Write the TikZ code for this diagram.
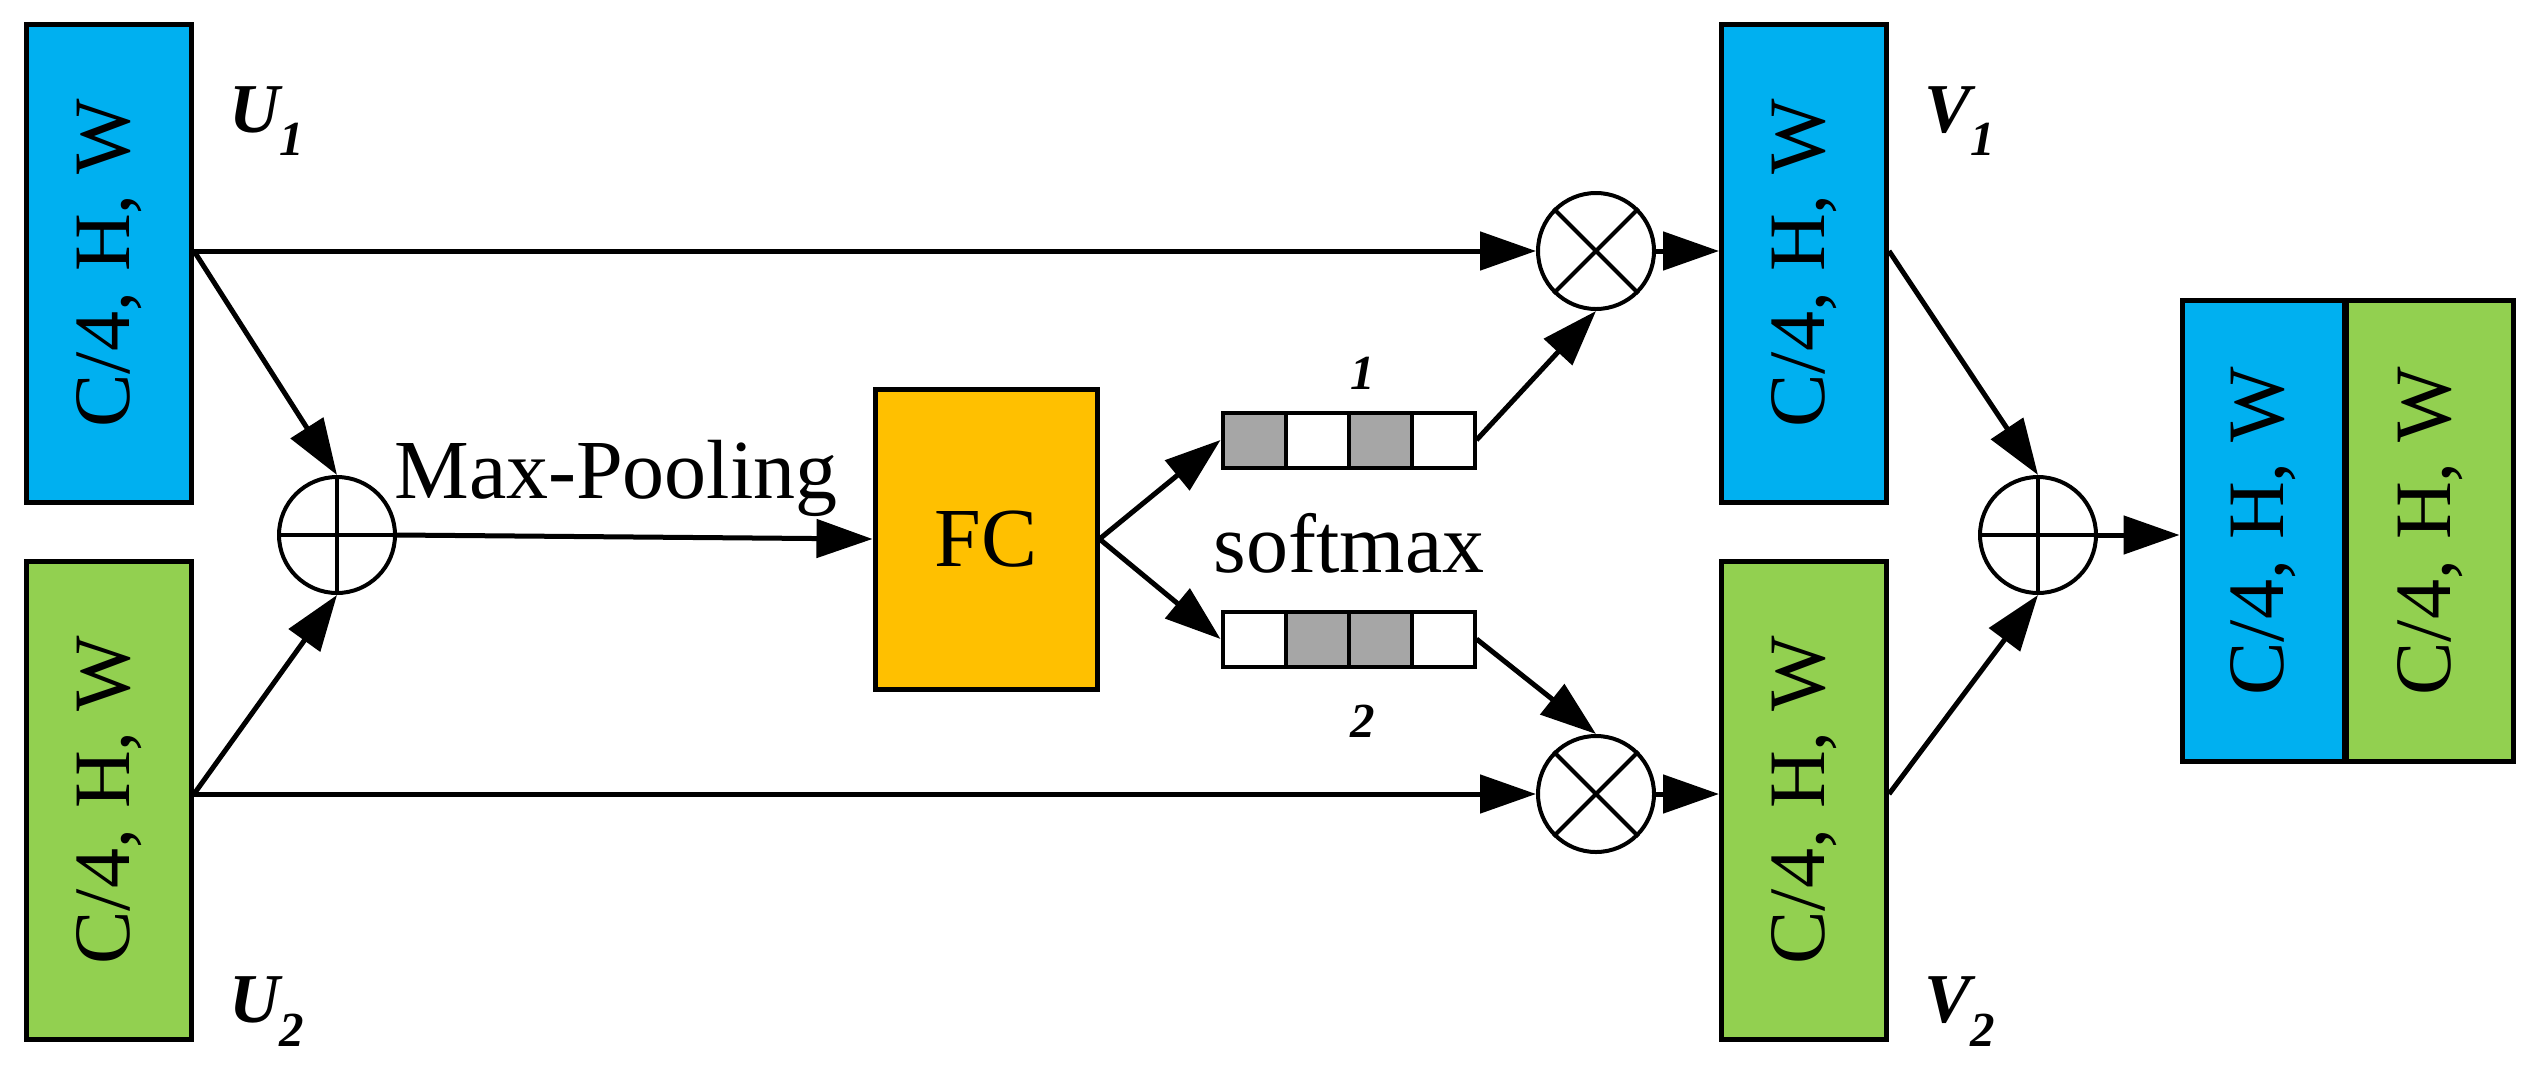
\documentclass[tikz,border=0pt]{standalone}
\usepackage{fontspec}
\setmainfont{Liberation Serif}
\usetikzlibrary{arrows.meta}
\begin{document}
\begin{tikzpicture}[x=1pt,y=-1pt,
  box/.style={draw,line width=5pt,minimum width=165pt,minimum height=478pt,inner sep=0pt},
  lbl/.style={rotate=90,font=\fontsize{80}{96}\selectfont},
  op/.style={draw,circle,line width=4pt,minimum size=116pt,inner sep=0pt},
  cell/.style={draw,line width=4pt,minimum width=63pt,minimum height=55pt,inner sep=0pt},
  arr/.style={line width=5pt,-{Triangle[length=56pt,width=38pt]}},
  ln/.style={line width=5pt}]
\definecolor{cblue}{RGB}{0,176,240}
\definecolor{cgreen}{RGB}{146,208,80}
\definecolor{corange}{RGB}{255,192,0}
\definecolor{cgray}{RGB}{166,166,166}
\useasboundingbox (0,0) rectangle (2527,1069);
\node[box,fill=cblue] (U1) at (109,263) {};
\node[lbl] at (U1) {C/4, H, W};
\node[box,fill=cgreen] (U2) at (109,800) {};
\node[lbl] at (U2) {C/4, H, W};
\node[box,fill=cblue] (V1) at (1804,263) {};
\node[lbl] at (V1) {C/4, H, W};
\node[box,fill=cgreen] (V2) at (1804,800) {};
\node[lbl] at (V2) {C/4, H, W};
\node[box,fill=cblue,minimum width=162pt,minimum height=461pt] (O1) at (2263,531) {};
\node[lbl] at (O1) {C/4, H, W};
\node[box,fill=cgreen,minimum width=167pt,minimum height=461pt] (O2) at (2430,531) {};
\node[lbl] at (O2) {C/4, H, W};
\node[draw,line width=5pt,fill=corange,minimum width=222pt,minimum height=300pt,font=\fontsize{84}{100}\selectfont] (FC) at (986,539) {FC};
\node[op] (P1) at (337,535) {};
\draw[line width=4pt] (P1.north)--(P1.south) (P1.west)--(P1.east);
\node[op] (P2) at (2038,535) {};
\draw[line width=4pt] (P2.north)--(P2.south) (P2.west)--(P2.east);
\node[op] (M1) at (1596,251) {};
\draw[line width=4pt] (M1.north west)--(M1.south east) (M1.north east)--(M1.south west);
\node[op] (M2) at (1596,794) {};
\draw[line width=4pt] (M2.north west)--(M2.south east) (M2.north east)--(M2.south west);
% vectors
\node[cell,fill=cgray] (a11) at (1254,440) {};
\node[cell] (a12) at (1317,440) {};
\node[cell,fill=cgray] (a13) at (1380,440) {};
\node[cell] (a14) at (1443,440) {};
\node[cell] (a21) at (1254,639) {};
\node[cell,fill=cgray] (a22) at (1317,639) {};
\node[cell,fill=cgray] (a23) at (1380,639) {};
\node[cell] (a24) at (1443,639) {};
% labels
\tikzset{it/.style={font=\fontsize{70}{84}\selectfont\bfseries\itshape}}
\node[it] at (267,121) {U\textsubscript{1}};
\node[it] at (267,1012) {U\textsubscript{2}};
\node[it] at (1960,121) {V\textsubscript{1}};
\node[it] at (1960,1012) {V\textsubscript{2}};
\node[it] at (1336,373) {\char"1D736\textsubscript{1}};
\node[it] at (1336,721) {\char"1D736\textsubscript{2}};
\node[font=\fontsize{84}{100}\selectfont] at (1349,543) {softmax};
\node[font=\fontsize{84}{100}\selectfont] at (616,478) {Max-Pooling};
% connectors
\coordinate (u1r) at (194,251);
\coordinate (u2r) at (194,794);
\coordinate (v1r) at (1887,263);
\coordinate (v2r) at (1887,800);
\draw[arr] (u1r) -- (M1.west);
\draw[arr] (u2r) -- (M2.west);
\draw[arr] (u1r) -- (P1.north);
\draw[arr] (u2r) -- (P1.south);
\draw[arr] (P1.east) -- (FC.west);
\draw[arr] (FC.east) -- (a11.west);
\draw[arr] (FC.east) -- (a21.west);
\draw[arr] (a14.east) -- (M1.south);
\draw[arr] (a24.east) -- (M2.north);
\draw[arr] (M1.east) -- (V1.west|-M1.east);
\draw[arr] (M2.east) -- (V2.west|-M2.east);
\draw[arr] (V1.east|-u1r) -- (P2.north);
\draw[arr] (V2.east|-u2r) -- (P2.south);
\draw[arr] (P2.east) -- (O1.west|-P2.east);
\end{tikzpicture}
\end{document}
